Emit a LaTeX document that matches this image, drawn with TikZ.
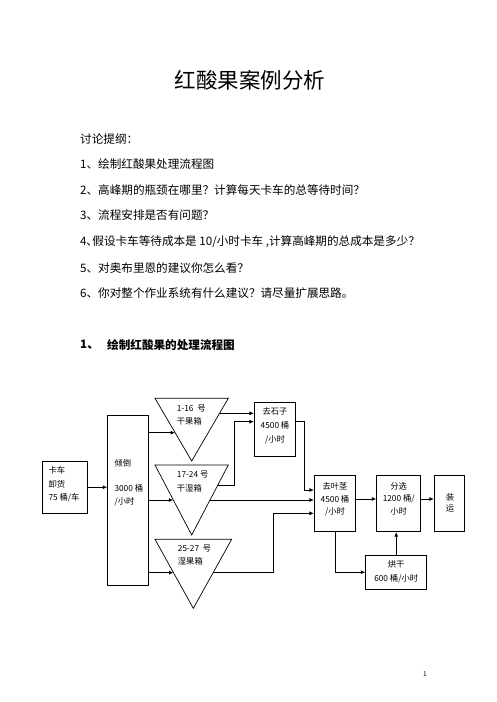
\documentclass[tikz,border=0pt]{standalone}
\usepackage{fontspec}
\setmainfont{Noto Sans CJK SC}
\usetikzlibrary{arrows.meta,calc}
\begin{document}
\begin{tikzpicture}[x=1pt,y=-1pt,
  box/.style={draw,line width=0.7pt,inner sep=0pt},
  arr/.style={line width=0.9pt,-{Latex[length=4.5pt,width=4pt]}},
  ln/.style={line width=0.7pt},
  body/.style={anchor=west,inner sep=0pt,font=\fontsize{11.6}{13}\selectfont},
  lab/.style={inner sep=0pt,font=\fontsize{8.3}{10}\selectfont},
  labw/.style={lab,anchor=west}]
\useasboundingbox (0,0) rectangle (496,702);
% title and text
\node[inner sep=0pt,font=\fontsize{21.5}{24}\selectfont] (title) at (250,80) {红酸果案例分析};
\node[body] (t0) at (80,139) {讨论提纲：};
\node[body] (t1) at (80,164.3) {1、绘制红酸果处理流程图};
\node[body] (t2) at (80,190) {2、高峰期的瓶颈在哪里？计算每天卡车的总等待时间？};
\node[body] (t3) at (80,215) {3、流程安排是否有问题？};
\node[body] (t4) at (80,241.7) {4､假设卡车等待成本是 10/小时卡车 ,计算高峰期的总成本是多少？};
\node[body] (t5) at (80,268.3) {5、对奥布里恩的建议你怎么看？};
\node[body] (t6) at (80,293.3) {6、你对整个作业系统有什么建议？请尽量扩展思路。};
\node[body,font=\fontsize{11.6}{13}\selectfont\bfseries] (h1) at (80,345) {1、};
\node[body,font=\fontsize{11.6}{13}\selectfont\bfseries] (h2) at (107,345) {绘制红酸果的处理流程图};
\node[inner sep=0pt,font=\fontsize{6.5}{8}\selectfont] (pg) at (425,674) {1};
% boxes
\node[box,minimum width=45pt,minimum height=52.3pt] (kc) at (64.8,487.2) {};
\node[box,minimum width=40.6pt,minimum height=170pt] (qd) at (128,500) {};
\node[box,minimum width=41.4pt,minimum height=54.4pt] (qsz) at (275,429.5) {};
\node[box,minimum width=41.4pt,minimum height=56.7pt] (qyj) at (335,503.3) {};
\node[box,minimum width=44pt,minimum height=56.7pt] (fx) at (398.7,503.3) {};
\node[box,minimum width=30pt,minimum height=56.7pt] (zy) at (449.3,503.3) {};
\node[box,minimum width=61pt,minimum height=34.3pt] (hg) at (396.2,572.2) {};
% triangles
\coordinate (a1) at (155,398.3); \coordinate (b1) at (228.3,398.3); \coordinate (c1) at (191.7,461);
\coordinate (a2) at (155,465); \coordinate (b2) at (228.3,465); \coordinate (c2) at (191.7,535);
\coordinate (a3) at (155,539.3); \coordinate (b3) at (231.7,539.3); \coordinate (c3) at (193.3,608.3);
\draw[ln] (a1) -- (b1) -- (c1) -- cycle;
\draw[ln] (a2) -- (b2) -- (c2) -- cycle;
\draw[ln] (a3) -- (b3) -- (c3) -- cycle;
\coordinate (t1in) at (175.1,432.7);
\coordinate (t2in) at (173.3,500);
\coordinate (t3in) at (173.5,572.7);
\coordinate (t1out) at (219.5,413.3);
\coordinate (t2outa) at (217.8,485);
\coordinate (t2outb) at (210,500);
\coordinate (t3out) at (213.2,572.7);
\coordinate (j1) at (234.3,421.7);
\coordinate (j2) at (273.3,513.3);
\coordinate (j3) at (304.3,490);
\coordinate (r1) at (0,499);
% labels
\node[labw] (l1) at (48.3,470) {卡车};
\node[labw] (l2) at (48.3,484) {卸货};
\node[labw] (l3) at (48.3,497.3) {75 桶/车};
\node[labw] (l4) at (114.3,463.3) {倾倒};
\node[labw] (l5) at (114.3,488.3) {3000 桶};
\node[labw] (l6) at (114.3,501.7) {/小时};
\node[labw] (l7) at (176.7,408.3) {1-16\ \ 号};
\node[labw] (l8) at (176.7,421.7) {干果箱};
\node[labw] (l9) at (176.7,475) {17-24 号};
\node[labw] (l10) at (176.7,488.3) {干湿箱};
\node[labw] (l11) at (177.7,549) {25-27\ \ 号};
\node[labw] (l12) at (177.7,561.7) {湿果箱};
\node[lab] (l13) at (275,411.7) {去石子};
\node[lab] (l14) at (275,425) {4500 桶};
\node[lab] (l15) at (275,439.3) {/小时};
\node[lab] (l16) at (335,486) {去叶茎};
\node[lab] (l17) at (335,499) {4500 桶};
\node[lab] (l18) at (335,511.5) {/小时};
\node[lab] (l19) at (398.7,486) {分选};
\node[lab] (l20) at (398.7,499) {1200 桶/};
\node[lab] (l21) at (398.7,511.5) {小时};
\node[lab] (l22) at (450,497.5) {装};
\node[lab] (l23) at (450,508.5) {运};
\node[lab] (l24) at (396.2,564.3) {烘干};
\node[lab] (l25) at (396.2,578.3) {600 桶/小时};
% connectors
\draw[arr] (kc.east) -- (kc.east -| qd.west);
\draw[arr] (qd.east |- t1in) -- (t1in);
\draw[arr] (qd.east |- t2in) -- (t2in);
\draw[arr] (qd.east |- t3in) -- (t3in);
\draw[arr] (t1out) -- (t1out -| qsz.west);
\draw[arr] (t2outa) -| (j1) -- (j1 -| qsz.west);
\draw[arr] (t2outb) -- (t2outb -| qyj.west);
\draw[arr] (t3out) -| (j2) -- (j2 -| qyj.west);
\draw[arr] (qsz.east |- j1) -| (j3) -- (j3 -| qyj.west);
\draw[arr] (qyj.east |- r1) -- (fx.west |- r1);
\draw[arr] (fx.east |- r1) -- (zy.west |- r1);
\draw[arr] (qyj.south) |- (hg.west);
\draw[arr] (hg.north) -- (hg.north |- fx.south);
\end{tikzpicture}
\end{document}
